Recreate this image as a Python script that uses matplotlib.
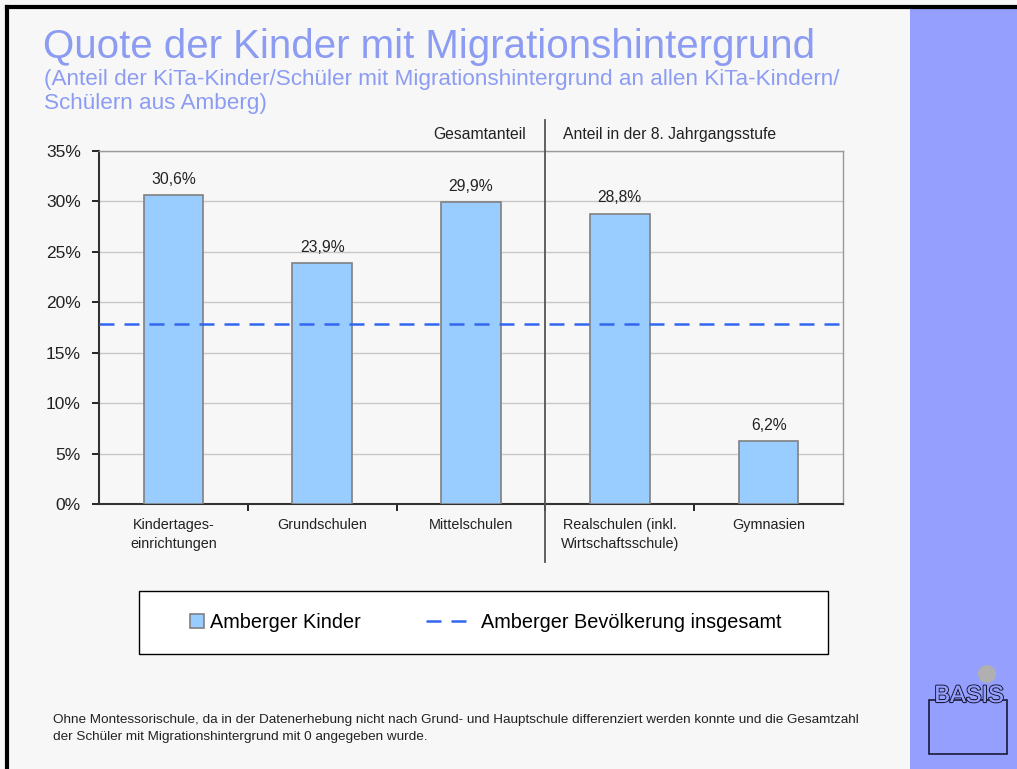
import numpy as np
import matplotlib
matplotlib.use("Agg")
import matplotlib.pyplot as plt
import matplotlib.patheffects as pe
from matplotlib.patches import Rectangle, Ellipse
from matplotlib.lines import Line2D
from matplotlib.container import BarContainer
from matplotlib.legend_handler import HandlerPatch, update_from_first_child
from matplotlib.transforms import blended_transform_factory

plt.rcParams['font.family'] = ['Liberation Sans', 'DejaVu Sans']

# data
categories = ["Kindertages-\neinrichtungen", "Grundschulen", "Mittelschulen",
              "Realschulen (inkl.\nWirtschaftsschule)", "Gymnasien"]
kinder = [30.6, 23.9, 29.9, 28.8, 6.2]
bevoelkerung = 17.8
yticks = [0, 5, 10, 15, 20, 25, 30, 35]

bg = "#f7f7f7"
title_col = "#8c9cf2"
panel_col = "#959ffd"
bar_col = "#99ccff"
line_col = "#3366ee"

W, H = 1017, 769
fig = plt.figure(figsize=(W / 100, H / 100), dpi=100, facecolor=bg)

def fx(px):
    return px / W

def fy(py):
    return 1 - py / H

# frame and side panel
fig.patches.append(Rectangle((fx(910), 0), fx(W - 910), fy(8), transform=fig.transFigure,
                             facecolor=panel_col, edgecolor="none", zorder=0))
fig.add_artist(Line2D([fx(7), fx(7)], [0, fy(7)], color="black", lw=3))
fig.add_artist(Line2D([fx(7), 1], [fy(7), fy(7)], color="black", lw=3))

# titles
fig.text(fx(43), fy(47), "Quote der Kinder mit Migrationshintergrund", color=title_col,
         fontsize=29, va="center", ha="left")
fig.text(fx(44), fy(79), "(Anteil der KiTa-Kinder/Schüler mit Migrationshintergrund an allen KiTa-Kindern/",
         color=title_col, fontsize=16.2, va="center", ha="left")
fig.text(fx(44), fy(103), "Schülern aus Amberg)", color=title_col, fontsize=16.2, va="center", ha="left")

ax = fig.add_axes([fx(99), fy(504), fx(843 - 99), (504 - 151) / H])
ax.set_facecolor(bg)
x = np.arange(len(categories))
ax.bar(x, kinder, width=0.4, color=bar_col, edgecolor="#808080", linewidth=1.2,
       zorder=3, label="Amberger Kinder")
ax.axhline(bevoelkerung, color=line_col, lw=1.8, dashes=(6, 4), zorder=4,
           label="Amberger Bevölkerung insgesamt")

for xi, v in zip(x, kinder):
    ax.annotate(f"{v:.1f}%".replace(".", ","), (xi, v), xytext=(0, 6),
                textcoords="offset points", ha="center", va="bottom", fontsize=11.3, color="#222222")

ax.set_xlim(-0.5, len(categories) - 0.5)
ax.set_ylim(0, 35)
ax.set_yticks(yticks)
ax.set_yticklabels([f"{t}%" for t in yticks], fontsize=12.5, color="#222222")
ax.yaxis.grid(True, color="#c8c8c8", lw=1, zorder=0)
ax.set_axisbelow(True)
ax.tick_params(axis="y", length=5, width=1.2, direction="out", pad=8)

ax.set_xticks(x)
ax.set_xticklabels(categories, fontsize=10.4, color="#222222", linespacing=1.45)
ax.tick_params(axis="x", length=0, pad=10)
ax.set_xticks(np.arange(0.5, len(categories) - 1, 1), minor=True)
ax.tick_params(axis="x", which="minor", length=5, width=1.2, direction="out")

for s in ["left", "bottom"]:
    ax.spines[s].set_color("#333333")
    ax.spines[s].set_linewidth(1.5)
for s in ["top", "right"]:
    ax.spines[s].set_color("#999999")
    ax.spines[s].set_linewidth(1)

# divider between groups
tr = blended_transform_factory(ax.transData, ax.transAxes)
ax.plot([2.5, 2.5], [-0.164, 1.088], color="#555555", lw=1.3, transform=tr, clip_on=False, zorder=5)
ax.text(2.5 - 0.13, 1.048, "Gesamtanteil", transform=tr, ha="right", va="center",
        fontsize=11.3, color="#222222")
ax.text(2.5 + 0.12, 1.048, "Anteil in der 8. Jahrgangsstufe", transform=tr, ha="left", va="center",
        fontsize=11.3, color="#222222")

# legend: small square sitting close to its label
def square_patch(legend, orig_handle, xdescent, ydescent, width, height, fontsize):
    s = 14 * 0.72
    shift = 8 * 0.72
    return Rectangle((-xdescent + width - s + shift, -ydescent + (height - s) / 2), s, s)

fig.patches.append(Rectangle((fx(139), fy(654)), fx(828 - 139), (654 - 591) / H, transform=fig.transFigure,
                             facecolor="white", edgecolor="black", lw=1, zorder=1))
handles, labels = ax.get_legend_handles_labels()
leg = fig.legend(handles[::-1], labels[::-1], loc="center", bbox_to_anchor=(fx(468), fy(622)), ncol=2,
                 frameon=False, fontsize=14.3, columnspacing=3.27, handlelength=2.1, handletextpad=0.7,
                 handler_map={BarContainer: HandlerPatch(patch_func=square_patch,
                                                         update_func=update_from_first_child)})

# footnote
fig.text(fx(53), fy(720), "Ohne Montessorischule, da in der Datenerhebung nicht nach Grund- und Hauptschule differenziert werden konnte und die Gesamtzahl",
         fontsize=9.7, color="#222222", va="center", ha="left")
fig.text(fx(53), fy(737), "der Schüler mit Migrationshintergrund mit 0 angegeben wurde.",
         fontsize=9.7, color="#222222", va="center", ha="left")

# logo
fig.patches.append(Rectangle((fx(929), fy(754)), fx(78), (754 - 700) / H, transform=fig.transFigure,
                             facecolor="none", edgecolor="#1a1a3a", lw=1.2, zorder=3))
fig.patches.append(Ellipse((fx(987), fy(674)), fx(18), 18 / H, transform=fig.transFigure,
                           facecolor="#b0b0b0", edgecolor="none", zorder=3))
fig.text(fx(969), fy(696), "BASIS", fontsize=17, ha="center", va="center", color=panel_col,
         path_effects=[pe.withStroke(linewidth=1.6, foreground="#1a1a3a"), pe.Normal()], zorder=4)

fig.savefig("out.png", dpi=100, facecolor=bg)
